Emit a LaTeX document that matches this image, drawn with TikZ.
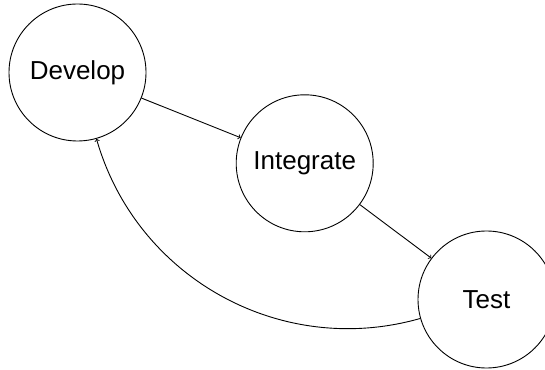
\documentclass[tikz,border=0pt]{standalone}
\usepackage{fontspec}
\setmainfont{Liberation Sans}
\begin{document}
\begin{tikzpicture}[x=1pt,y=1pt,
  stage/.style={circle,draw,line width=0.9pt,minimum size=137pt,inner sep=0pt,font=\fontsize{26}{30}\selectfont},
  flow/.style={->,line width=0.9pt}]
\useasboundingbox (0,0) rectangle (545,369);
\clip (0,0) rectangle (545,369);
\node[stage] (dev) at (77.5,296.5) {Develop};
\node[stage] (int) at (304.7,205.7) {Integrate};
\node[stage] (test) at (486.5,69.5) {Test};
\draw[flow] (dev) -- (int);
\draw[flow] (int) -- (test);
\draw[flow] (test) to[bend left=45] (dev);
\end{tikzpicture}
\end{document}
